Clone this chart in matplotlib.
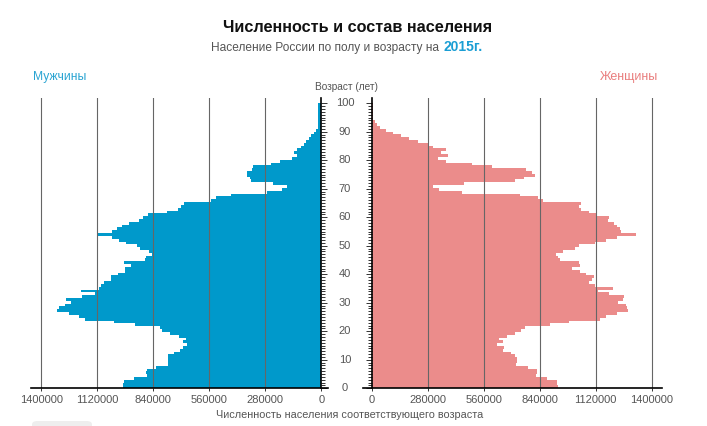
import numpy as np
import matplotlib
matplotlib.use("Agg")
import matplotlib.pyplot as plt
from matplotlib.transforms import blended_transform_factory
from matplotlib.patches import FancyBboxPatch

#%% data

ages = np.arange(0, 101)

male = [993000, 990000, 985000, 935000, 870000, 878000, 870000, 827000, 765000, 765000,
        768000, 765000, 735000, 707000, 690000, 670000, 693000, 677000, 713000, 757000,
        795000, 807000, 930000, 1037000, 1182000, 1212000, 1262000, 1324000, 1310000, 1279000,
        1252000, 1274000, 1194000, 1132000, 1202000, 1110000, 1100000, 1087000, 1052000, 1052000,
        1015000, 982000, 982000, 953000, 987000, 880000, 878000, 845000, 862000, 907000,
        920000, 978000, 1010000, 1045000, 1118000, 1045000, 1020000, 998000, 960000, 910000,
        893000, 865000, 770000, 718000, 702000, 687000, 552000, 527000, 452000, 273000,
        195000, 173000, 240000, 352000, 357000, 370000, 370000, 348000, 340000, 253000,
        207000, 148000, 123000, 135000, 123000, 100000, 88000, 75000, 63000, 50000,
        38000, 27000, 17000, 17000, 17000, 17000, 17000, 17000, 17000, 17000, 17000]

female = [933000, 925000, 925000, 875000, 820000, 828000, 825000, 780000, 722000, 725000,
          725000, 717000, 695000, 655000, 663000, 627000, 655000, 638000, 675000, 717000,
          747000, 767000, 892000, 987000, 1142000, 1170000, 1225000, 1280000, 1275000, 1270000,
          1233000, 1258000, 1262000, 1188000, 1133000, 1208000, 1117000, 1088000, 1100000, 1112000,
          1070000, 1042000, 1003000, 1040000, 1038000, 942000, 933000, 922000, 958000, 1017000,
          1035000, 1118000, 1170000, 1228000, 1320000, 1245000, 1242000, 1225000, 1213000, 1183000,
          1188000, 1122000, 1085000, 1045000, 1038000, 1045000, 855000, 830000, 742000, 450000,
          338000, 305000, 463000, 718000, 762000, 818000, 800000, 773000, 600000, 500000,
          372000, 333000, 380000, 345000, 371000, 305000, 288000, 229000, 187000, 145000,
          108000, 70000, 40000, 25000, 17000, 8000, 8000, 8000, 8000, 8000, 8000]

xticks = [0, 280000, 560000, 840000, 1120000, 1400000]
age_ticks = list(range(0, 101, 10))

title = "Численность и состав населения"
subtitle = "Население России по полу и возрасту на"
year_label = "2015г."
male_label = "Мужчины"
female_label = "Женщины"
age_label = "Возраст (лет)"
x_label = "Численность населения соответствующего возраста"

MALE_COL = "#0099CB"
FEMALE_COL = "#EB8C8B"
GRID_COL = "#666666"
TEXT_COL = "#555555"

#%% layout in pixels

W, H = 707, 426


def fx(px):
    return px / W


def fy(py):
    return 1 - py / H


plt.rcParams["font.family"] = ["Liberation Sans", "DejaVu Sans"]

fig = plt.figure(figsize=(W / 100, H / 100), dpi=100)
top, bottom = 98.3, 388.3
ax_l = fig.add_axes([fx(31.3), fy(bottom), (328.3 - 31.3) / W, (bottom - top) / H])
ax_r = fig.add_axes([fx(363.1), fy(bottom), (661.7 - 363.1) / W, (bottom - top) / H])

band = 100 / 101
for ax, vals, col in ((ax_l, male, MALE_COL), (ax_r, female, FEMALE_COL)):
    ax.barh(ages * band, vals, height=band, align="edge", color=col,
            linewidth=0, zorder=1)
    for t in xticks[1:]:
        ax.axvline(t, color=GRID_COL, lw=0.8, zorder=2)
    ax.set_ylim(0, 101.75)
    ax.set_xticks(xticks)
    ax.set_xticklabels([str(t) for t in xticks])
    ax.tick_params(axis="x", length=2.5, width=0.7, color="#333333",
                   labelcolor=TEXT_COL, labelsize=8, pad=2)
    ax.set_yticks(age_ticks)
    ax.set_yticks(ages, minor=True)
    ax.tick_params(axis="y", which="major", length=4.5, width=0.7, color="#333333")
    ax.tick_params(axis="y", which="minor", length=3, width=0.7, color="#333333")
    ax.spines["top"].set_visible(False)
    ax.spines["bottom"].set_linewidth(1.2)
    ax.set_facecolor("none")

ax_l.set_xlim(1450000, -35000)
ax_l.yaxis.tick_right()
ax_l.tick_params(axis="y", which="both", labelright=False, labelleft=False)
ax_l.spines["left"].set_visible(False)
ax_l.spines["right"].set_position(("data", 0))
ax_l.spines["right"].set_linewidth(1.2)
ax_l.spines["right"].set_zorder(3)

ax_r.set_xlim(-43000, 1450000)
ax_r.yaxis.tick_left()
ax_r.tick_params(axis="y", which="both", labelleft=False, labelright=False)
ax_r.spines["right"].set_visible(False)
ax_r.spines["left"].set_position(("data", 0))
ax_r.spines["left"].set_linewidth(1.2)
ax_r.spines["left"].set_zorder(3)

# age labels between the two halves
trans = blended_transform_factory(fig.transFigure, ax_l.transData)
for a in age_ticks:
    ax_l.text(fx(345), a, str(a), transform=trans, ha="center", va="center",
              fontsize=8, color=TEXT_COL, clip_on=False)

#%% texts

fig.text(fx(358), fy(28), title, ha="center", va="center", fontsize=11.7,
         fontweight="bold", color="#111111")
fig.text(fx(439), fy(48), subtitle, ha="right", va="center", fontsize=8.6,
         color=TEXT_COL)
fig.text(fx(443), fy(47), year_label, ha="left", va="center", fontsize=10,
         fontweight="bold", color="#1A9ED4")
fig.text(fx(33), fy(77), male_label, ha="left", va="center", fontsize=8.7,
         color="#2AA4D2")
fig.text(fx(658), fy(77), female_label, ha="right", va="center", fontsize=9,
         color="#E97E7E")
fig.text(fx(346), fy(87), age_label, ha="center", va="center", fontsize=7.3,
         color=TEXT_COL)
fig.text(fx(350), fy(415), x_label, ha="center", va="center", fontsize=7.8,
         color=TEXT_COL)

# the edge of a button peeking in at the bottom
fig.patches.append(FancyBboxPatch((fx(32), fy(432)), fx(60), 11 / H,
                                  boxstyle="round,pad=0,rounding_size=0.008",
                                  transform=fig.transFigure, facecolor="#EEEEEE",
                                  edgecolor="none"))

fig.savefig("out.png", dpi=100)
